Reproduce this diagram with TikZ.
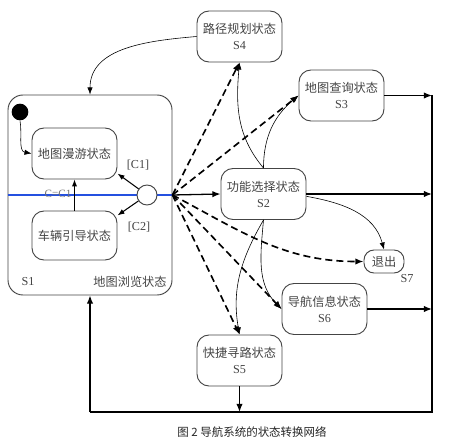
\documentclass[tikz,border=0pt]{standalone}
\usepackage{fontspec}
\setmainfont{Liberation Serif}
\newfontfamily\cjk{Noto Sans CJK SC}
\usetikzlibrary{arrows.meta}
\definecolor{navgray}{HTML}{444444}
\definecolor{navblue}{HTML}{2450E0}
\tikzset{
  navstate/.style={draw=navgray, line width=0.8pt, rounded corners=0.36cm, minimum width=2.55cm, minimum height=1.53cm, align=center, inner sep=1pt, text=navgray, font=\fontsize{10.4}{13.6}\selectfont},
  navlabel/.style={text=navgray, font=\fontsize{10.4}{13.6}\selectfont},
  navtrans/.style={-{Latex[length=6pt,width=4.5pt]}, line width=0.5pt},
  navjump/.style={-{Latex[length=7pt,width=5.5pt]}, line width=1.4pt, dash pattern=on 6pt off 3.5pt},
  navexit/.style={-{Latex[length=7pt,width=5.5pt]}, line width=1.1pt},
}
\begin{document}
\begin{tikzpicture}[x=0.03cm,y=0.03cm]
  \useasboundingbox (0,0) rectangle (450,445);

  \node[draw=navgray, line width=0.8pt, rounded corners=0.45cm, minimum width=4.92cm, minimum height=6cm] (S1) at (90,250) {};
  \draw[navblue, line width=1.4pt] (S1.west) -- (S1.east);
  \node[navlabel] (s1name) at (28,163) {S1};
  \node[navlabel] (s1text) at (130,163) {\cjk 地图浏览状态};
  \node[text=black!55, font=\fontsize{9.5}{11}\selectfont] (cond) at (58,251) {C=C1};
  \node[navlabel] (c1) at (138,280) {[C1]};
  \node[navlabel] (c2) at (139,218) {[C2]};

  \node[circle, fill=black, minimum size=0.5cm, inner sep=0pt] (init) at (20,333) {};
  \node[circle, draw=navgray, fill=white, line width=0.8pt, minimum size=0.6cm, inner sep=0pt] (choice) at (147,250) {};
  \node[navstate] (roam) at (74.5,291.5) {\cjk 地图漫游状态};
  \node[navstate, minimum height=1.47cm] (guide) at (74.5,209.5) {\cjk 车辆引导状态};

  \node[navstate] (S4) at (239.5,408.5) {{\cjk 路径规划状态}\\S4};
  \node[navstate] (S3) at (341.5,349.5) {{\cjk 地图查询状态}\\S3};
  \node[navstate] (S2) at (263.5,251) {{\cjk 功能选择状态}\\S2};
  \node[navstate] (S6) at (324.5,136) {{\cjk 导航信息状态}\\S6};
  \node[navstate] (S5) at (239.5,84.5) {{\cjk 快捷寻路状态}\\S5};
  \node[navstate, minimum width=1.2cm, minimum height=0.69cm, rounded corners=0.3cm] (S7) at (384,183.5) {\cjk 退出};
  \node[navlabel] (s7name) at (407,166) {S7};

  \coordinate (railtop) at (432,349.5);
  \coordinate (railbot) at (432,33);
  \coordinate (loopbl) at (90,33);

  \draw[navtrans] (init.south) to[out=-80, in=170] (roam.west);
  \draw[navtrans, line width=0.9pt] (choice) -- (roam.-25);
  \draw[navtrans, line width=0.9pt] (choice) -- (guide.25);
  \draw[navtrans, line width=0.9pt] (guide.north) -- (roam.south);

  \draw[navexit] (S1.east) -- (S2.west);
  \draw[navjump] (S1.east) -- (S4.south);
  \draw[navjump] (S1.east) -- (S3.west);
  \draw[navjump] (S1.east) to[out=-28, in=180] (S7.west);
  \draw[navjump] (S1.east) -- (S6.west);
  \draw[navjump] (S1.east) -- (S5.north);

  \draw[navtrans] (S2.north) to[out=130, in=-95] (S4.south);
  \draw[navtrans] (S2.north) to[out=90, in=-140] (S3.west);
  \draw[navtrans] ([yshift=-2pt]S2.east) to[out=-10, in=105] (S7.north);
  \draw[navtrans] (S2.south) to[out=-95, in=135] (S6.west);
  \draw[navtrans] (S2.south) to[out=-120, in=100] (S5.north);
  \draw[navtrans] (S4.west) to[out=185, in=90] (S1.north);

  \draw[navexit] (S3.east) -- (S3.east -| railtop);
  \draw[navexit] (S2.east) -- (S2.east -| railtop);
  \draw[navexit] (S6.east) -- (S6.east -| railtop);
  \draw[navexit] (S5.south) -- (S5.south |- railbot);
  \draw[line width=1.1pt] (railtop) -- (railbot) -- (loopbl);
  \draw[navexit] (loopbl) -- (S1.south);

  \node[text=black!85, font=\cjk\fontsize{9.8}{11}\selectfont] (caption) at (252,13) {图 2 导航系统的状态转换网络};
\end{tikzpicture}
\end{document}
